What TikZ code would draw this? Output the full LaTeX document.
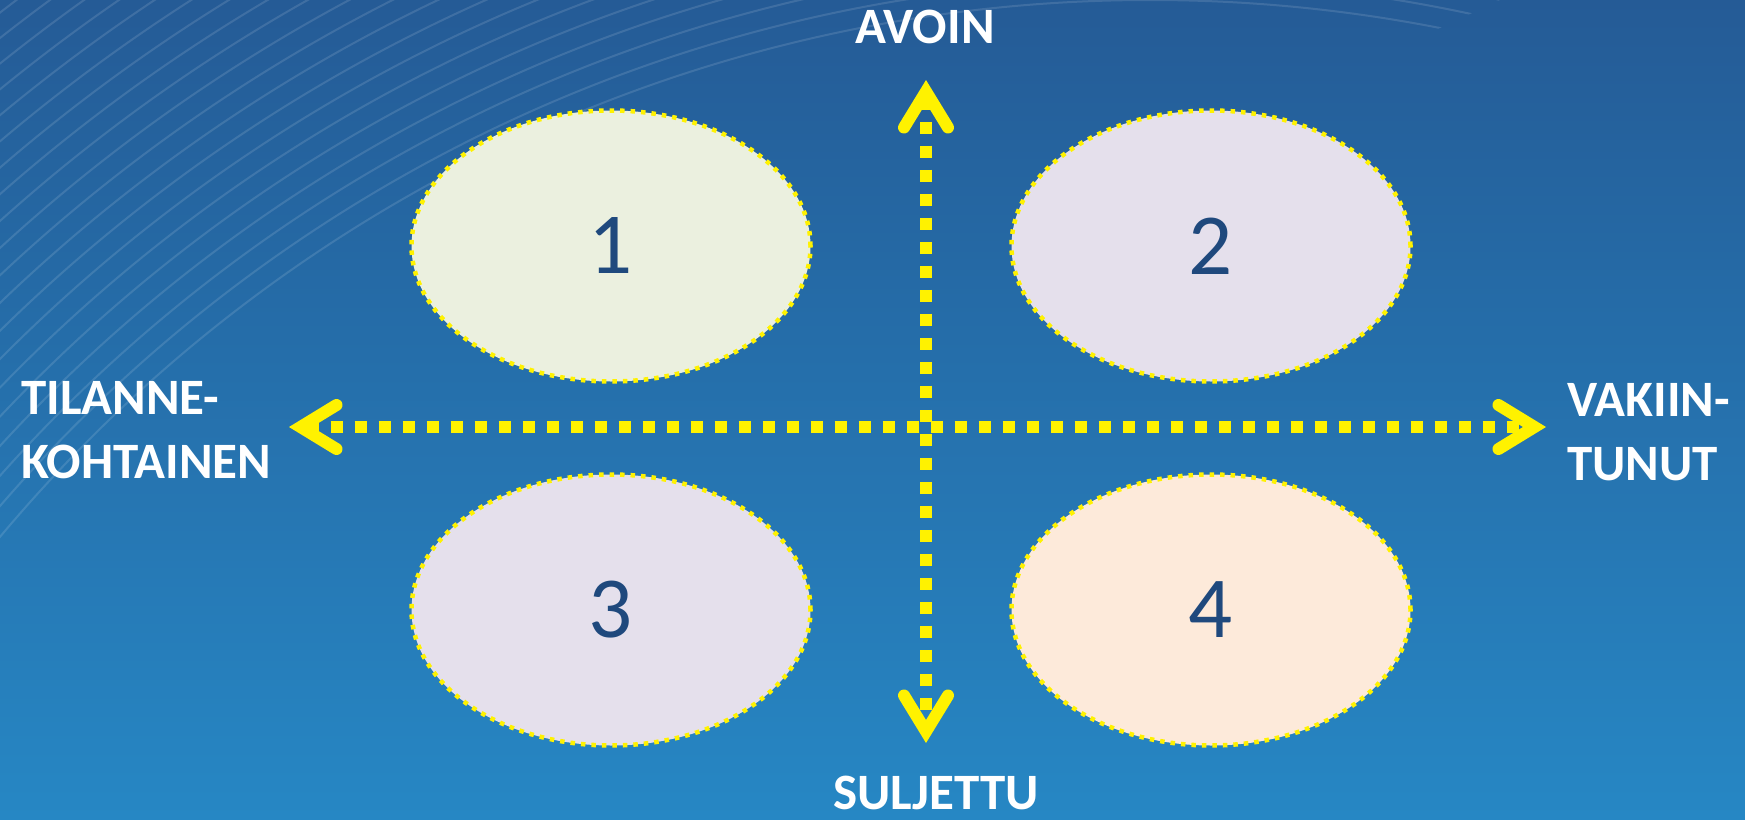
\documentclass[tikz,border=0pt]{standalone}
\usepackage{fontspec}
\setmainfont{Carlito}
\usetikzlibrary{shapes.geometric,arrows.meta}
\definecolor{bgtop}{RGB}{37,91,150}
\definecolor{bgbottom}{RGB}{38,135,196}
\definecolor{areagreen}{RGB}{235,240,223}
\definecolor{arealilac}{RGB}{229,224,236}
\definecolor{areapeach}{RGB}{253,234,218}
\definecolor{numblue}{RGB}{31,73,125}

\begin{document}
\begin{tikzpicture}[x=1pt,y=-1pt,
  areastyle/.style={ellipse,draw=yellow,line width=4.5pt,dash pattern=on 4.5pt off 6pt,
    minimum width=399pt,minimum height=271pt,inner sep=0pt,text=numblue,
    font=\fontsize{87}{100}\selectfont},
  axisstyle/.style={draw=yellow,line width=12pt,dash pattern=on 12pt off 12pt,
    {Straight Barb[line cap=round,line join=miter,length=36pt,width=44pt]}-{Straight Barb[line cap=round,line join=miter,length=36pt,width=44pt]}},
  labelstyle/.style={text=white,inner sep=0pt,align=left,
    font=\bfseries\fontsize{51}{63.5}\selectfont}]
  \useasboundingbox (0,0) rectangle (1745,819);
  \fill[top color=bgtop,bottom color=bgbottom] (0,0) rectangle (1745,819);
  % faint background lines
  \begin{scope}
    \clip (0,0) -- (1500,0) -- (0,700) -- cycle;
    \foreach \r in {1500,1520,...,1960}
      \draw[white,opacity=.12,line width=2pt] (1150,1500) circle[radius=\r pt];
  \end{scope}

  \foreach \n/\x/\y/\c in {1/611/246/areagreen,2/1211/246/arealilac,
                           3/611/610/arealilac,4/1211/610/areapeach}
    \node[areastyle,fill=\c] (area\n) at (\x,\y) {\n};

  \coordinate (west) at (289,427);
  \coordinate (east) at (1546,427);
  \coordinate (north) at (926,80);
  \coordinate (south) at (926,743);
  \draw[axisstyle] (west) -- (east);
  \draw[axisstyle] (north) -- (south);

  \node[labelstyle,anchor=base] (open) at (925,43) {AVOIN};
  \node[labelstyle,anchor=base,text depth=0pt] (closed) at (936,809) {SULJETTU};
  \node[labelstyle,anchor=west] (situational) at (21,430) {TILANNE-\\KOHTAINEN};
  \node[labelstyle,anchor=west] (established) at (1567,432) {VAKIIN-\\TUNUT};
\end{tikzpicture}
\end{document}
